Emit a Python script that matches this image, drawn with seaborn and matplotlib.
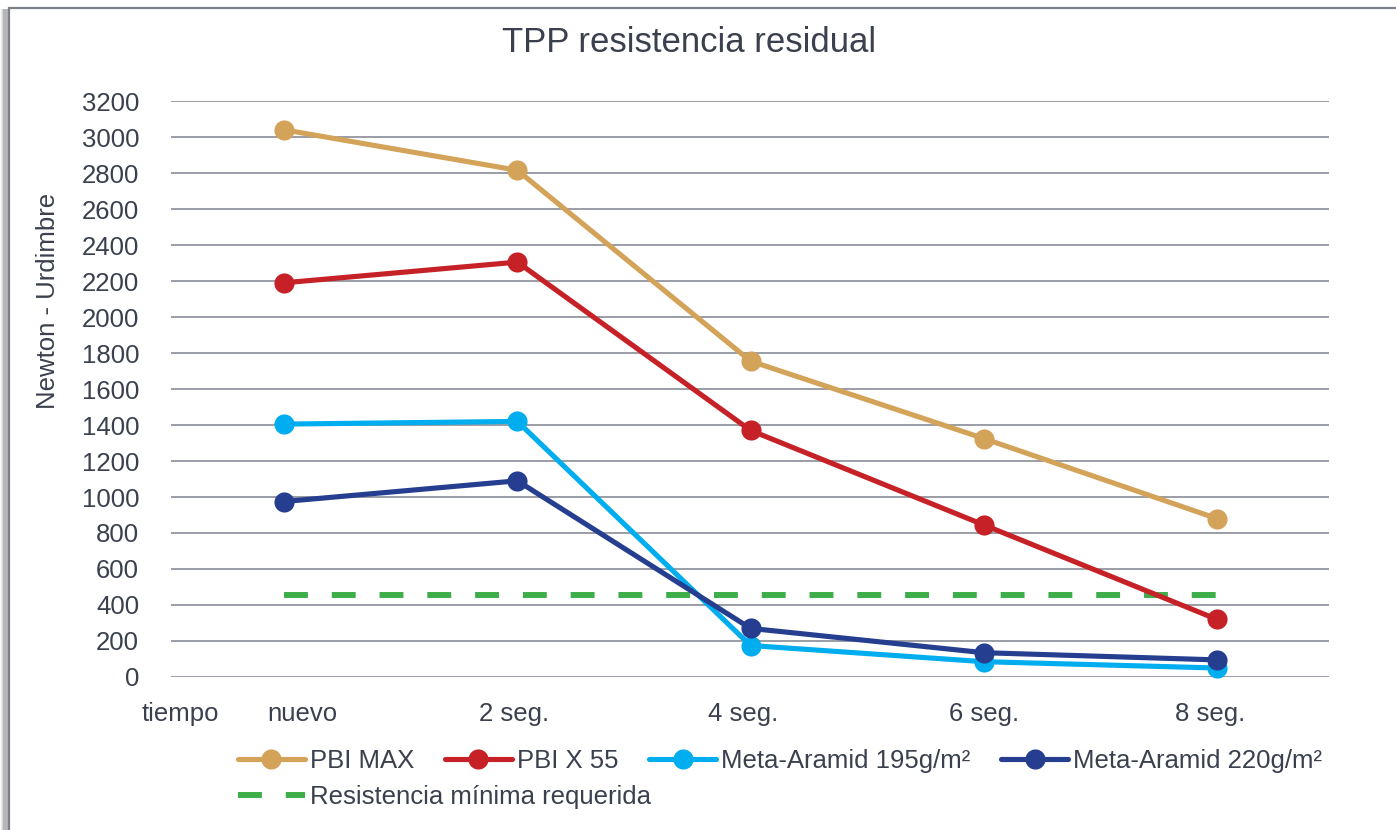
import matplotlib
matplotlib.use("Agg")
import matplotlib.pyplot as plt
import seaborn as sns
import pandas as pd
from matplotlib.patches import Rectangle

# data
tiempos = ['nuevo', '2 seg.', '4 seg.', '6 seg.', '8 seg.']
pbi_max = [3040, 2815, 1755, 1325, 880]
pbi_x55 = [2190, 2305, 1370, 845, 320]
meta_195 = [1405, 1420, 175, 85, 50]
meta_220 = [975, 1090, 270, 135, 95]
minimo = [455, 455, 455, 455, 455]

series = [
    ('PBI MAX', pbi_max, '#D4A35A'),
    ('PBI X 55', pbi_x55, '#C62127'),
    ('Meta-Aramid 195g/m²', meta_195, '#00AEEF'),
    ('Meta-Aramid 220g/m²', meta_220, '#253E8F'),
]

sns.set_theme(style='white')
plt.rcParams['font.family'] = ['Liberation Sans', 'DejaVu Sans']
txt = '#3A404D'
fs = 18.5

fig = plt.figure(figsize=(13.96, 8.30), dpi=100)
ax = fig.add_axes([171/1396, 1-677/830, (1329-171)/1396, (677-101)/830])

for name, vals, col in series:
    df = pd.DataFrame({'tiempo': tiempos, 'N': vals})
    sns.lineplot(data=df, x='tiempo', y='N', ax=ax, color=col, linewidth=3.7,
                 marker='o', markersize=14.5, markeredgewidth=0, label=name,
                 clip_on=False, zorder=3)

df_min = pd.DataFrame({'tiempo': tiempos, 'N': minimo})
sns.lineplot(data=df_min, x='tiempo', y='N', ax=ax, color='#3DAE49', linewidth=4.3,
             dashes=False, label='Resistencia mínima requerida', zorder=2)
ax.lines[-1].set_dashes((4.0, 4.0))
ax.lines[-1].set_dash_capstyle('butt')

ax.set_ylim(0, 3200)
ax.set_xlim(-0.485, 4.48)
ax.set_yticks(range(0, 3201, 200))
ax.yaxis.grid(True, color='#9A9DA5', linewidth=1.4)
ax.set_axisbelow(True)
for s in ax.spines.values():
    s.set_visible(False)

ax.set_xticks([-0.445, 0.08, 0.985, 1.97, 3.0, 3.97],
              ['tiempo'] + tiempos)
ax.tick_params(axis='x', length=0, pad=18, labelsize=fs, labelcolor=txt)
ax.tick_params(axis='y', length=0, pad=23, labelsize=fs, labelcolor=txt)
ax.set_xlabel('')
ax.set_ylabel('Newton - Urdimbre', fontsize=fs, color=txt)
ax.yaxis.set_label_coords(-0.096, 0.653)
fig.text(689/1396, 1-43/830, 'TPP resistencia residual', fontsize=25, color=txt,
         ha='center', va='center')

h, l = ax.get_legend_handles_labels()
ax.get_legend().remove()
fig.legend(h[:4], l[:4], ncol=4, loc='center left',
           bbox_to_anchor=(238/1396, 1-761/830), frameon=False, fontsize=fs,
           labelcolor=txt, handlelength=2.6, handletextpad=0.2,
           columnspacing=1.2, borderaxespad=0, borderpad=0)
fig.legend(h[4:], l[4:], loc='center left',
           bbox_to_anchor=(238/1396, 1-797/830), frameon=False, fontsize=fs,
           labelcolor=txt, handlelength=2.6, handletextpad=0.2,
           borderaxespad=0, borderpad=0)

# chart frame with shadow on the left
for i, a in enumerate([0.05, 0.1, 0.18, 0.3]):
    fig.add_artist(Rectangle((i/1396, -0.1), (9-i)/1396, 1.09 - 1/830, transform=fig.transFigure,
                             facecolor='#000000', alpha=a * 0.5, edgecolor='none'))
fig.add_artist(Rectangle((9/1396, -0.1), 1.1, 1.1 - 8/830, transform=fig.transFigure,
                         facecolor='none', edgecolor='#7B8088', linewidth=1.6))

fig.savefig('out.png', dpi=100)
